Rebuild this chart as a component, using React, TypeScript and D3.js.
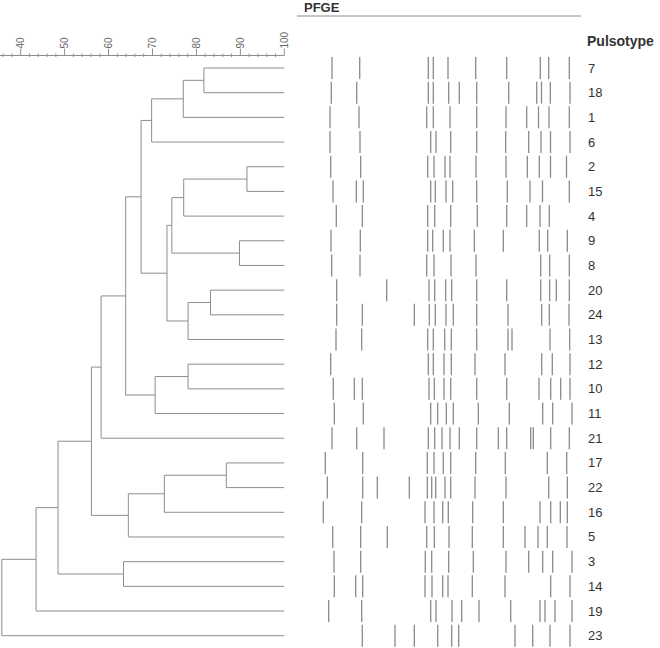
import React from "react";
import * as d3 from "d3";

// Leaf order (top to bottom)
const pulsotypes = ["7","18","1","6","2","15","4","9","8","20","24","13","12","10","11","21","17","22","16","5","3","14","19","23"];

// UPGMA merges: [nodeId, childA, childB, similarity %]
const merges: [string, string, string, number][] = [
  ["M", "7", "18", 81.7],
  ["L", "M", "1", 77.0],
  ["J", "L", "6", 69.8],
  ["R", "2", "15", 91.5],
  ["P", "R", "4", 77.1],
  ["Q", "9", "8", 89.8],
  ["N", "P", "Q", 74.4],
  ["S", "20", "24", 83.2],
  ["O", "S", "13", 78.1],
  ["K", "N", "O", 73.3],
  ["H", "J", "K", 67.4],
  ["T", "12", "10", 78.1],
  ["I", "T", "11", 70.6],
  ["G", "H", "I", 63.9],
  ["E", "G", "21", 58.3],
  ["V", "17", "22", 86.8],
  ["U", "V", "16", 72.7],
  ["F", "U", "5", 64.5],
  ["C", "E", "F", 56.1],
  ["D", "3", "14", 63.4],
  ["B", "C", "D", 48.5],
  ["A", "B", "19", 43.5],
  ["root", "A", "23", 35.7],
];

// Axis ticks
const majorTicks = [40, 50, 60, 70, 80, 90, 100];
const minorTicks = [36, 38, 42, 44, 46, 48, 52, 54, 56, 58, 62, 64, 66, 68, 72, 74, 76, 78, 82, 84, 86, 88, 92, 94, 96, 98];

// PFGE band positions (migration distance along gel), one array per pulsotype
const bands: Record<string, number[]> = {
  "7":  [17, 44.7, 113.3, 118.3, 133, 160.7, 191.7, 225.3, 233.7, 254.3],
  "18": [16.3, 41.7, 113.3, 118.3, 133.7, 144.3, 161.7, 193.7, 221.7, 226.5, 235.3, 255],
  "1":  [15, 44, 111.7, 118.3, 135, 161.7, 191, 211.7, 223.5, 234, 254.3],
  "6":  [15, 45, 115.7, 121, 135.7, 161.7, 190.7, 213.7, 226, 235.5, 255],
  "2":  [15.7, 45.7, 112.7, 119, 130, 135, 161, 191, 212.3, 224.3, 235.5, 251.5],
  "15": [18, 41.3, 48.3, 115.7, 120.3, 131, 137.7, 161.7, 192.3, 215, 227.5, 254.3],
  "4":  [21.3, 47.3, 112.7, 119.7, 135.7, 162.3, 191.7, 211.7, 225, 234.3],
  "9":  [16, 45.3, 112.7, 117.7, 128.3, 135, 159.3, 188.3, 224.3, 232.7, 252.3],
  "8":  [16.7, 45, 111.7, 119, 136, 161, 225.7, 234.7, 254.3],
  "20": [21.7, 71.7, 114, 119.7, 130.7, 136.7, 161.7, 191.7, 225.7, 234.7, 241.3, 254.3],
  "24": [21.7, 47.3, 99.3, 114.3, 120.3, 131, 138.3, 161.7, 193, 226.7, 234.3, 254],
  "13": [21, 46.7, 112.7, 118.3, 129.7, 136.3, 161.7, 193, 197, 235, 254.7],
  "12": [15.7, 113.3, 118.3, 129, 136.3, 160, 190, 226.7, 237.3, 255],
  "10": [18.3, 39.3, 47.3, 114, 119.3, 129, 135.7, 161.7, 191.7, 224, 235.7, 245.7, 255],
  "11": [19.3, 48.3, 115.7, 122.7, 131.3, 138.3, 163.3, 194.3, 227.7, 237.7, 257],
  "21": [17, 41.7, 69, 113.3, 119.7, 127, 135, 144.3, 161.7, 183.3, 191.7, 215.7, 218.3, 235.7, 254.3],
  "17": [10.3, 47.7, 112.3, 119, 128.3, 135.7, 160.7, 190.3, 232.3, 251.7],
  "22": [12.3, 47.7, 62.3, 94.3, 112.3, 116.7, 120.7, 130, 135.7, 160, 191, 233.7, 252.3],
  "16": [8.3, 46.7, 110, 119, 127.7, 133.3, 157.7, 188.3, 225, 235.7, 245.3, 252.3],
  "5":  [17.7, 45.7, 72.3, 111.7, 119.3, 134, 157.3, 188.3, 210, 223, 232.3, 252],
  "3":  [19, 45.7, 110.3, 116.7, 133.7, 158.3, 191, 213.7, 227.7, 237.7, 257],
  "14": [19.3, 40.7, 47.7, 110, 117, 127.7, 133, 157.3, 190, 235.7, 255],
  "19": [13.7, 46.7, 115.7, 121, 137, 146.7, 164, 195.7, 225, 230, 240, 257],
  "23": [47.3, 80, 99.3, 122.7, 136.7, 143.7, 200, 217.7, 235, 255],
};

const FONT = "'Liberation Sans', Arial, Helvetica, sans-serif";
const LINE = "#8e8e8e";

export default function App() {
  const W = 660, H = 648;
  const x = d3.scaleLinear().domain([40, 100]).range([20.7, 284.3]);
  const y = d3.scalePoint<string>().domain(pulsotypes).range([68, 635.7]);
  const gel = d3.scaleLinear().domain([0, 260]).range([315, 575]);

  // compute node positions
  const pos = new Map<string, { x: number; y: number }>();
  pulsotypes.forEach((p) => pos.set(p, { x: x(100), y: y(p)! }));
  const segs: { x1: number; y1: number; x2: number; y2: number }[] = [];
  merges.forEach(([id, a, b, s]) => {
    const pa = pos.get(a)!, pb = pos.get(b)!;
    const nx = x(s);
    segs.push({ x1: nx, y1: pa.y, x2: nx, y2: pb.y });
    segs.push({ x1: nx, y1: pa.y, x2: pa.x, y2: pa.y });
    segs.push({ x1: nx, y1: pb.y, x2: pb.x, y2: pb.y });
    pos.set(id, { x: nx, y: (pa.y + pb.y) / 2 });
  });

  const axisY = 55.5;
  const bandHalf = 11;

  return (
    <svg width={W} height={H} style={{ position: "absolute", left: 0, top: 0, background: "#fff" }}>
      {/* axis */}
      <g>
        <line x1={0} x2={x(100)} y1={axisY} y2={axisY} stroke={LINE} strokeWidth={1} />
        {minorTicks.map((t) => (
          <line key={"m" + t} x1={x(t)} x2={x(t)} y1={axisY - 2} y2={axisY + 1.5} stroke={LINE} strokeWidth={1} />
        ))}
        {majorTicks.map((t) => (
          <g key={"M" + t}>
            <line x1={x(t)} x2={x(t)} y1={axisY - 7} y2={axisY} stroke={LINE} strokeWidth={1} />
            <text
              transform={`translate(${x(t) + 3.5},${axisY - 7}) rotate(-90)`}
              fontFamily={FONT}
              fontSize={10}
              fill="#666"
              textAnchor="start"
            >
              {t}
            </text>
          </g>
        ))}
      </g>
      {/* dendrogram */}
      <g>
        {segs.map((s, i) => (
          <line key={i} x1={s.x1} y1={s.y1} x2={s.x2} y2={s.y2} stroke={LINE} strokeWidth={1} />
        ))}
      </g>
      {/* PFGE header */}
      <text x={304} y={12} fontFamily={FONT} fontSize={13} fontWeight="bold" fill="#333">PFGE</text>
      <line x1={297} x2={581} y1={16} y2={16} stroke={LINE} strokeWidth={1} />
      <text x={587} y={46} fontFamily={FONT} fontSize={14} fontWeight="bold" fill="#333">Pulsotype</text>
      {/* bands */}
      <g>
        {pulsotypes.map((p) =>
          bands[p].map((b, i) => (
            <line
              key={p + "-" + i}
              x1={gel(b)}
              x2={gel(b)}
              y1={y(p)! - bandHalf}
              y2={y(p)! + bandHalf}
              stroke="#8a8a8a"
              strokeWidth={1.3}
            />
          ))
        )}
      </g>
      {/* labels */}
      <g>
        {pulsotypes.map((p) => (
          <text key={p} x={588} y={y(p)! + 4.5} fontFamily={FONT} fontSize={13} fill="#333">
            {p}
          </text>
        ))}
      </g>
    </svg>
  );
}
